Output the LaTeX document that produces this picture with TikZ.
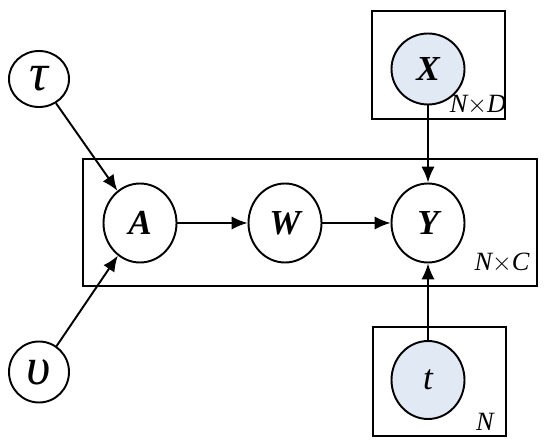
\documentclass[tikz,border=0pt]{standalone}
\usepackage{fontspec}
\setmainfont{Liberation Serif}
\usepackage{tikz}
\usetikzlibrary{shapes.geometric,arrows.meta,positioning}
\definecolor{observedBlue}{HTML}{E1E9F4}

\begin{document}
\begin{tikzpicture}[
    line width=1.1pt,
    latent/.style = {ellipse, draw, fill=white, inner sep=0pt, minimum width=1.46cm, minimum height=1.58cm, font=\fontsize{20}{22}\selectfont\bfseries\itshape},
    prior/.style = {ellipse, draw, fill=white, inner sep=0pt, minimum width=1.2cm, minimum height=1.12cm, font=\fontsize{30}{32}\selectfont\itshape},
    observed/.style = {latent, fill=observedBlue},
    plate/.style = {rectangle, draw, inner sep=0pt},
    platelabel/.style = {font=\fontsize{15}{17}\selectfont\itshape, inner sep=0pt},
    arrow/.style = {-{Latex[length=9pt,width=7.5pt]}}
]
    \useasboundingbox (0,0) rectangle (11,-8.96);

    % Plates
    \node [plate, minimum width=9.08cm, minimum height=2.54cm] (plateC) at (6.20,-4.45) {};
    \node [plate, minimum width=2.66cm, minimum height=2.16cm] (plateD) at (8.77,-1.30) {};
    \node [plate, minimum width=2.66cm, minimum height=2.18cm] (plateN) at (8.79,-7.63) {};
    \node [platelabel] (labelC) at (10.04,-5.26) {N$\times$C};
    \node [platelabel] (labelD) at (9.56,-2.10) {N$\times$D};
    \node [platelabel] (labelN) at (9.70,-8.44) {N};

    % Variables
    \node [prior] (tau) at (0.78,-1.58) {τ};
    \node [prior, minimum height=1.22cm] (upsilon) at (0.78,-7.44) {υ};
    \node [latent] (A) at (2.80,-4.46) {A};
    \node [latent] (W) at (5.70,-4.46) {W};
    \node [latent] (Y) at (8.56,-4.46) {Y};
    \node [observed, minimum height=1.42cm] (X) at (8.56,-1.38) {X};
    \node [observed, minimum height=1.56cm, font=\fontsize{20}{22}\selectfont\itshape] (t) at (8.56,-7.60) {t};

    % Connections
    \draw [arrow] (tau) -- (A);
    \draw [arrow] (upsilon) -- (A);
    \draw [arrow] (A) -- (W);
    \draw [arrow] (W) -- (Y);
    \draw [arrow] (X) -- (Y);
    \draw [arrow] (t) -- (Y);
\end{tikzpicture}
\end{document}
